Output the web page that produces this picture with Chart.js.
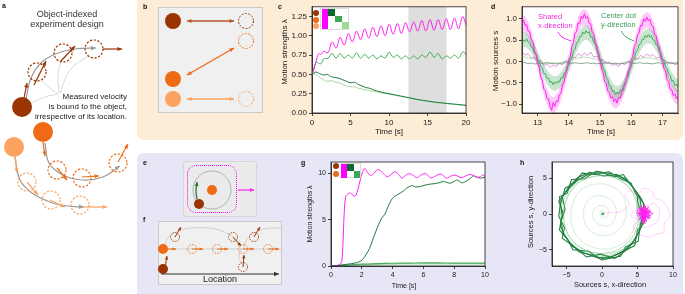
<!DOCTYPE html>
<html><head><meta charset="utf-8">
<script src="https://cdn.jsdelivr.net/npm/chart.js@4.4.1/dist/chart.umd.min.js"></script>
<style>
html,body{margin:0;padding:0}
body{width:685px;height:294px;position:relative;overflow:hidden;background:#fff;font-family:"Liberation Sans",Arial,sans-serif;color:#1a1a1a}
.a{position:absolute;box-sizing:border-box}
.box{background:#f0f0f0;border:1px solid #c9c9c9}
canvas{position:absolute}
.t{position:absolute;white-space:nowrap;line-height:1;font-size:8px;color:#1a1a1a;transform:translate(-50%,-50%)}
.r{transform:translate(-50%,-50%) rotate(-90deg)}
.L{position:absolute;font-weight:bold;font-size:7px;line-height:1;color:#111}
.sq{position:absolute}
</style></head><body>
<div class="a" style="left:137px;top:0;width:546px;height:140px;background:#fdedd6;border-radius:0 0 7px 7px"></div>
<div class="a" style="left:137px;top:153px;width:546px;height:141px;background:#e6e6f7;border-radius:7px 7px 0 0"></div>
<div class="a box" style="left:158px;top:7px;width:105px;height:106px"></div>
<div class="a box" style="left:183px;top:161px;width:74px;height:56px;border-radius:3px;background:#ebebeb;border-color:#d6d6d6"></div>
<div class="a" style="left:187px;top:165px;width:50px;height:48px;border:1.4px dotted #ff00ff;border-radius:9px"></div>
<div class="a box" style="left:158px;top:221px;width:124px;height:64px"></div>

<canvas id="cc" width="195" height="140" style="left:280px;top:0"></canvas>
<canvas id="cd" width="193" height="140" style="left:490px;top:0"></canvas>
<canvas id="cg" width="195" height="135" style="left:300px;top:153px"></canvas>
<canvas id="ch" width="163" height="135" style="left:520px;top:153px"></canvas>
<canvas id="ov" width="685" height="294" style="left:0;top:0"></canvas>

<!-- panel letters -->
<div class="L" style="left:2px;top:2px">a</div>
<div class="L" style="left:143px;top:3px">b</div>
<div class="L" style="left:278px;top:3px">c</div>
<div class="L" style="left:491px;top:3px">d</div>
<div class="L" style="left:143px;top:159px">e</div>
<div class="L" style="left:143px;top:216px">f</div>
<div class="L" style="left:301px;top:159px">g</div>
<div class="L" style="left:520px;top:159px">h</div>

<!-- panel a texts -->
<div class="t" style="left:67px;top:14px;font-size:9px;color:#333">Object-indexed</div>
<div class="t" style="left:67px;top:24px;font-size:9px;color:#333">experiment design</div>
<div style="position:absolute;left:0;width:127px;top:92px;text-align:right;font-size:8px;line-height:10px;color:#222">Measured velocity<br>is bound to the object,<br>irrespective of its location.</div>

<!-- axis titles -->
<div class="t r" style="left:285px;top:52px">Motion strengths λ</div>
<div class="t" style="left:389px;top:132px">Time [s]</div>
<div class="t r" style="left:496px;top:61px">Motion sources s</div>
<div class="t" style="left:601px;top:132px">Time [s]</div>
<div class="t r" style="left:309px;top:214px;font-size:7px">Motion strengths λ</div>
<div class="t" style="left:404px;top:285px;font-size:7px">Time [s]</div>
<div class="t r" style="left:531px;top:212px;font-size:7.5px">Sources s, y-direction</div>
<div class="t" style="left:610px;top:285px;font-size:7.5px">Sources s, x-direction</div>
<div class="t" style="left:220px;top:279px;font-size:9px">Location</div>

<!-- d annotations -->
<div style="position:absolute;left:538px;top:12px;font-size:7.5px;line-height:9px;color:#ee2ad8">Shared<br>x-direction</div>
<div style="position:absolute;left:601px;top:11px;font-size:7.5px;line-height:9px;color:#3a9c52">Center dot<br>y-direction</div>

<!-- inset legend c -->
<div class="sq" style="left:320px;top:8px;width:29px;height:22px;background:#fff;border:1px solid #ddd;box-sizing:border-box"></div>
<div class="sq" style="left:313px;top:10px;width:6px;height:6px;border-radius:50%;background:#9a3503"></div>
<div class="sq" style="left:313px;top:16.5px;width:6px;height:6px;border-radius:50%;background:#ee6a15"></div>
<div class="sq" style="left:313px;top:23px;width:6px;height:6px;border-radius:50%;background:#fda35f"></div>
<div class="sq" style="left:321.5px;top:9px;width:6px;height:20px;background:#ff00ff"></div>
<div class="sq" style="left:327.5px;top:9px;width:7px;height:6.6px;background:#0b6b2f"></div>
<div class="sq" style="left:334.5px;top:15.6px;width:7px;height:6.6px;background:#3fa654"></div>
<div class="sq" style="left:341.5px;top:22.2px;width:7px;height:6.6px;background:#a0d89a"></div>
<!-- inset legend g -->
<div class="sq" style="left:340.5px;top:163px;width:20px;height:15px;background:#fff;border:1px solid #ddd;box-sizing:border-box"></div>
<div class="sq" style="left:333px;top:163px;width:6px;height:6px;border-radius:50%;background:#9a3503"></div>
<div class="sq" style="left:333px;top:170.5px;width:6px;height:6px;border-radius:50%;background:#ee6a15"></div>
<div class="sq" style="left:341px;top:163.5px;width:6px;height:14px;background:#ff00ff"></div>
<div class="sq" style="left:347px;top:163.5px;width:6.5px;height:7px;background:#0b6b2f"></div>
<div class="sq" style="left:353.5px;top:170.5px;width:6.5px;height:7px;background:#3fa654"></div>

<script>
// ---------------- DATA ----------------
// panel c: motion strengths (three objects)
const cTime=[0,0.3,0.6,0.9,1.2,1.5,2.07,2.6,3.13,3.66,4.19,4.72,5.25,5.78,6.31,6.84,7.37,7.9,8.43,8.96,9.49,10.02,10.55,11.08,11.61,12.14,12.67,13.2,13.73,14.26,14.79,15.32,15.85,16.38,16.91,17.44,17.97,18.5,19.03,19.56,20];
const cShared=[0.50,0.58,0.70,0.77,0.76,0.80,0.78,0.92,0.84,0.98,0.88,1.03,0.92,1.06,0.95,1.09,0.97,1.11,0.99,1.13,1.00,1.15,1.02,1.16,1.03,1.17,1.05,1.18,1.06,1.20,1.06,1.21,1.07,1.21,1.08,1.22,1.08,1.23,1.09,1.25,1.14];
const cCenter=[0.50,0.60,0.66,0.64,0.64,0.70,0.71,0.77,0.71,0.77,0.71,0.75,0.71,0.78,0.71,0.76,0.71,0.75,0.70,0.74,0.71,0.79,0.72,0.75,0.70,0.74,0.70,0.74,0.70,0.75,0.72,0.79,0.72,0.77,0.70,0.74,0.71,0.75,0.71,0.79,0.76];
const cTime2=[0,0.5,1,1.5,2,2.5,3,3.5,4,4.5,5,5.5,6,6.5,7,7.5,8,9,10,11,12,13,14,15,16,17,18,19,20];
const cDark=[0.50,0.53,0.51,0.49,0.50,0.47,0.46,0.45,0.43,0.41,0.39,0.40,0.37,0.35,0.33,0.32,0.30,0.27,0.25,0.23,0.21,0.19,0.17,0.155,0.14,0.13,0.12,0.11,0.10];
const cLight=[0.50,0.50,0.46,0.43,0.41,0.42,0.40,0.39,0.37,0.35,0.34,0.34,0.32,0.31,0.30,0.29,0.28,0.26,0.245,0.225,0.205,0.185,0.165,0.15,0.135,0.125,0.115,0.105,0.095];
const cSpan=[12.5,17.5];
const cXTicks=[0,5,10,15,20], cXLabels=['0','5','10','15','20'];
const cYTicks=[0,0.25,0.5,0.75,1,1.25], cYLabels=['0.00','0.25','0.50','0.75','1.00','1.25'];

// panel d: motion sources, 12.5 s .. 17.5 s (fine: 0.05 s, coarse: 0.1 s)
const dStart=12.5, dFine=0.05, dCoarse=0.1;
const dShared=[0.88,0.97,0.84,0.86,0.70,0.69,0.50,0.45,0.24,0.17,
-0.03,-0.13,-0.36,-0.44,-0.65,-0.69,-0.87,-0.88,-1.05,-1.15,
-0.96,-1.06,-0.92,-0.95,-0.78,-0.75,-0.55,-0.49,-0.28,-0.18,
0.04,0.12,0.36,0.44,0.66,0.70,0.90,0.89,1.06,1.00,
1.12,1.01,1.05,0.90,0.88,0.69,0.65,0.42,0.36,0.12,
0.03,-0.18,-0.25,-0.47,-0.52,-0.70,-0.73,-0.86,-0.83,-0.95,
-0.88,-0.98,-0.84,-0.86,-0.70,-0.68,-0.49,-0.44,-0.23,-0.16,
0.05,0.10,0.35,0.42,0.62,0.66,0.85,0.83,1.00,0.94,
1.04,0.95,0.99,0.84,0.82,0.64,0.60,0.40,0.33,0.10,
0.02,-0.17,-0.22,-0.43,-0.47,-0.65,-0.66,-0.80,-0.76,-0.88,
-0.82];
const dCenter=[0.44,0.50,0.47,0.53,0.45,0.43,0.33,0.31,0.20,0.17,
0.05,0.02,-0.12,-0.14,-0.28,-0.29,-0.40,-0.39,-0.50,-0.47,
-0.55,-0.48,-0.52,-0.46,-0.49,-0.38,-0.39,-0.27,-0.26,-0.12,
-0.10,0.03,0.08,0.24,0.28,0.44,0.46,0.58,0.58,0.69,
0.64,0.72,0.66,0.70,0.57,0.57,0.44,0.42,0.27,0.22,
0.06,0.02,-0.15,-0.21,-0.37,-0.42,-0.57,-0.58,-0.71,-0.68,
-0.78,-0.72,-0.77,-0.67,-0.69,-0.56,-0.55,-0.40,-0.35,-0.20,
-0.13,0.03,0.06,0.22,0.25,0.39,0.41,0.52,0.51,0.61,
0.56,0.63,0.57,0.60,0.50,0.49,0.38,0.36,0.23,0.19,
0.05,0.02,-0.12,-0.17,-0.30,-0.33,-0.46,-0.45,-0.57,-0.53,
-0.60];
const dSharedHi=[1.10,1.06,0.93,0.72,0.46,0.17,-0.15,-0.44,-0.66,-0.80,
-0.84,-0.79,-0.64,-0.42,-0.13,0.18,0.50,0.80,1.04,1.18,
1.22,1.17,1.03,0.80,0.50,0.18,-0.11,-0.37,-0.57,-0.70,
-0.74,-0.70,-0.57,-0.36,-0.10,0.18,0.48,0.76,0.97,1.11,
1.16,1.11,0.97,0.75,0.48,0.17,-0.09,-0.33,-0.51,-0.63,-0.67];
const dSharedLo=[0.72,0.68,0.56,0.35,0.10,-0.18,-0.49,-0.78,-1.02,-1.17,
-1.22,-1.16,-1.01,-0.78,-0.50,-0.17,0.15,0.44,0.66,0.81,
0.86,0.81,0.67,0.44,0.15,-0.18,-0.46,-0.72,-0.93,-1.06,
-1.11,-1.06,-0.93,-0.72,-0.46,-0.18,0.13,0.40,0.61,0.75,
0.80,0.75,0.61,0.40,0.13,-0.17,-0.44,-0.68,-0.86,-0.98,-1.03];
const dCenterHi=[0.68,0.69,0.63,0.53,0.40,0.25,0.08,-0.07,-0.20,-0.29,
-0.34,-0.35,-0.30,-0.20,-0.07,0.09,0.28,0.48,0.66,0.78,
0.85,0.85,0.78,0.65,0.48,0.28,0.05,-0.17,-0.36,-0.50,
-0.57,-0.57,-0.50,-0.36,-0.17,0.06,0.26,0.44,0.60,0.71,
0.77,0.77,0.71,0.60,0.44,0.26,0.07,-0.11,-0.26,-0.37,-0.43];
const dCenterLo=[0.34,0.34,0.29,0.20,0.07,-0.09,-0.25,-0.40,-0.53,-0.63,
-0.69,-0.68,-0.63,-0.53,-0.40,-0.25,-0.07,0.14,0.31,0.43,
0.50,0.50,0.43,0.31,0.14,-0.07,-0.29,-0.51,-0.70,-0.84,
-0.91,-0.91,-0.84,-0.70,-0.51,-0.29,-0.08,0.10,0.25,0.36,
0.42,0.42,0.36,0.25,0.10,-0.08,-0.26,-0.43,-0.59,-0.70,-0.76];
const dOtherA=[0.22,0.15,0.18,0.08,0.10,-0.02,0.02,-0.10,-0.06,-0.14,
-0.08,-0.12,-0.05,-0.08,0.02,-0.03,0.10,0.08,0.18,0.12,
0.20,0.14,0.22,0.10,0.12,0.02,0.05,-0.06,-0.02,-0.10,
-0.06,-0.12,-0.04,-0.08,0.01,-0.02,0.08,0.05,0.14,0.10,
0.17,0.12,0.16,0.08,0.10,0.02,0.03,-0.05,-0.02,-0.08,-0.05];
const dOtherB=[-0.02,-0.03,-0.05,-0.04,-0.06,-0.05,-0.04,-0.05,-0.03,-0.05,
-0.04,-0.06,-0.05,-0.04,-0.03,-0.04,-0.05,-0.03,-0.04,-0.05,
-0.04,-0.03,-0.05,-0.04,-0.06,-0.04,-0.05,-0.03,-0.04,-0.05,
-0.04,-0.06,-0.05,-0.04,-0.03,-0.04,-0.05,-0.04,-0.03,-0.05,
-0.04,-0.05,-0.06,-0.04,-0.03,-0.05,-0.04,-0.03,-0.05,-0.04,-0.03];
const dOtherC=[0.12,0.10,0.08,0.06,0.05,0.02,0.00,-0.02,-0.03,-0.04,
-0.05,-0.04,-0.03,-0.02,0.00,0.02,0.04,0.06,0.08,0.09,
0.10,0.09,0.08,0.06,0.04,0.02,0.00,-0.02,-0.04,-0.05,
-0.06,-0.05,-0.04,-0.02,0.00,0.02,0.04,0.06,0.07,0.08,
0.09,0.08,0.07,0.05,0.03,0.01,-0.01,-0.03,-0.04,-0.05,-0.06];
const dXTicks=[13,14,15,16,17], dXLabels=['13','14','15','16','17'];
const dYTicks=[-1,-0.5,0,0.5,1], dYLabels=['\u22121.0','\u22120.5','0.0','0.5','1.0'];

// panel g
const gTimeS=[0,0.3,0.5,0.6,0.7,0.78,0.85,0.95,1.1,1.2,1.35,1.5,1.6,1.75,1.9,2.05,2.2,2.35,2.55,2.75,2.95,3.15,3.4,3.65,3.9,4.15,4.4,4.6,4.85,5.1,5.35,5.57,5.8,6.1,6.3,6.5,6.8,7.1,7.3,7.5,7.75,8.0,8.25,8.5,8.75,9.0,9.25,9.45,9.7,9.85,10];
const gShared=[0,0.02,0.1,0.2,0.5,2.5,5.5,7.5,7.8,7.9,7.8,7.55,7.6,8.3,9.3,10.2,10.55,10.2,9.8,9.95,10.35,10.4,10.0,9.65,9.9,10.2,9.9,9.5,9.8,10.0,9.8,9.55,9.8,10.0,9.8,9.5,9.75,9.95,9.75,9.5,9.7,9.85,9.7,9.55,9.75,9.9,9.8,9.6,9.65,9.85,9.7];
const gTimeD=[0,0.5,1.0,1.5,1.9,2.1,2.3,2.5,2.7,2.9,3.1,3.3,3.5,3.7,3.9,4.1,4.3,4.5,4.7,4.9,5.1,5.3,5.5,5.8,6.1,6.4,6.7,7.0,7.3,7.5,7.75,8.0,8.2,8.5,8.7,8.9,9.1,9.25,9.5,9.7,9.85,10];
const gDark=[0,0.08,0.18,0.3,0.5,0.8,1.3,1.9,2.8,3.7,4.5,5.2,5.6,6.4,7.1,7.5,7.7,7.9,8.1,8.4,8.6,8.7,8.55,8.6,8.75,8.85,8.9,9.0,9.15,9.05,8.95,9.15,9.3,9.0,9.1,9.3,9.55,9.75,9.6,9.5,9.55,9.6];
const gTimeM=[0,1,2,3,4,5,6,7,8,9,10];
const gMid=[0,0.1,0.2,0.25,0.3,0.32,0.33,0.33,0.32,0.32,0.32];
const gLight=[0,0.07,0.14,0.18,0.21,0.23,0.24,0.24,0.24,0.24,0.24];
const gXTicks=[0,2,4,6,8,10], gXLabels=['0','2','4','6','8','10'];
const gYTicks=[0,5,10], gYLabels=['0','5','10'];

// panel h: sources (x, y)
const hDark1=[[5.6,0.5],[5.3,2.4],[4.3,3.8],[3.2,5.0],[1.3,5.6],[-0.4,5.9],[-2.2,5.4],[-3.6,4.6],[-5.0,3.2],[-6.1,1.8],[-5.5,0.2],[-5.9,-1.6],[-5.2,-3.1],[-4.2,-4.5],[-2.6,-5.4],[-0.7,-6.1],[1.3,-6.0],[3.0,-5.2],[4.3,-4.0],[5.2,-2.5],[5.7,-0.8],[5.6,0.5]];
const hDark2=[[5.1,1.2],[4.9,3.0],[3.6,4.6],[2.1,5.5],[0.2,5.3],[-1.7,5.8],[-3.4,5.1],[-4.6,3.9],[-5.6,2.4],[-5.2,0.6],[-5.8,-0.9],[-5.5,-2.7],[-4.5,-4.0],[-3.2,-5.3],[-1.5,-5.7],[0.4,-6.3],[2.2,-5.6],[3.8,-4.7],[4.8,-3.3],[5.6,-1.7],[5.9,0.0],[5.1,1.2]];
const hDark3=[[5.8,1.6],[4.7,2.9],[4.1,4.3],[2.6,4.9],[1.0,5.9],[-1.0,5.5],[-2.8,5.7],[-4.1,4.2],[-5.2,3.6],[-5.9,1.2],[-6.1,-0.3],[-5.3,-1.9],[-5.6,-3.4],[-3.7,-4.7],[-2.2,-6.0],[-0.2,-5.6],[1.8,-6.2],[3.5,-5.0],[4.6,-4.4],[5.0,-2.2],[6.0,-1.2],[5.8,1.6]];
const hDark4=[[6.1,0.9],[5.5,2.2],[4.5,3.5],[3.0,5.5],[1.8,5.2],[-0.8,6.0],[-2.5,4.9],[-4.3,4.8],[-4.9,2.9],[-6.0,2.4],[-5.6,-0.3],[-6.0,-2.2],[-4.8,-3.6],[-4.1,-5.0],[-1.9,-5.2],[-0.1,-6.4],[2.6,-5.9],[3.3,-4.6],[5.1,-3.8],[5.4,-1.4],[6.1,0.9]];
const hMid1=[[5.0,0.3],[4.8,2.2],[3.7,3.8],[2.2,4.9],[0.3,5.4],[-1.7,5.1],[-3.4,4.3],[-4.6,2.9],[-5.3,1.1],[-5.4,-0.9],[-4.9,-2.7],[-3.8,-4.1],[-2.2,-5.1],[-0.3,-5.5],[1.7,-5.2],[3.3,-4.3],[4.5,-2.9],[5.1,-1.2],[5.0,0.3]];
const hMid2=[[5.4,0.8],[5.0,2.6],[3.9,4.2],[2.4,5.2],[0.6,5.7],[-1.4,5.6],[-3.2,4.8],[-4.7,3.4],[-5.6,1.6],[-5.9,-0.4],[-5.5,-2.4],[-4.5,-4.0],[-2.9,-5.2],[-1.0,-5.8],[1.0,-5.8],[2.9,-5.0],[4.4,-3.7],[5.3,-1.9],[5.4,0.8]];
const hSpiral=[[0,0],[0.3,0.2],[0.2,0.5],[-0.2,0.4],[-0.3,0.0],[0,-0.4],[0.6,-0.5],[0.9,0.1],[0.7,0.8],[0,1.2],[-0.9,0.9],[-1.3,0],[-1.0,-1.0],[0,-1.6],[1.2,-1.5],[1.9,-0.4],[1.9,1.0],[1.2,2.0],[0,2.5],[-1.3,2.4],[-2.3,1.4],[-2.6,0],[-2.3,-1.5],[-1.3,-2.6],[0.2,-3.0],[1.8,-2.6],[2.9,-1.5],[3.4,0],[3.3,1.6],[2.6,3.0],[1.3,3.9],[-0.3,4.2],[-2.0,3.9],[-3.3,3.0],[-4.1,1.5],[-4.4,-0.2],[-4.1,-2.0],[-3.2,-3.5],[-1.7,-4.5],[0.2,-4.9],[2.0,-4.6],[3.5,-3.6],[4.5,-2.0],[4.9,0],[4.7,2.0],[3.8,3.7],[2.3,4.8],[0.4,5.3],[-1.6,5.2],[-3.3,4.5],[-4.6,3.1],[-5.3,1.3],[-5.4,-0.7],[-4.9,-2.6],[-3.8,-4.2],[-2.1,-5.2],[0,-5.6],[2.0,-5.3],[3.7,-4.4],[4.9,-2.7],[5.4,-0.6],[5.2,1.5]];
const hSharedCore=[[5.2,0.3],[6.1,-0.4],[5.6,0.9],[6.6,0.2],[5.3,-0.6],[6.4,0.8],[5.8,-1.1],[6.9,-0.2],[5.1,0.1],[6.2,1.1],[5.5,-0.3],[6.8,0.5],[5.9,-0.8],[4.9,0.6],[6.3,-0.1],[5.4,1.2],[6.6,-0.7],[5.7,0.4],[6.1,-1.3],[5.0,-0.2],[6.5,0.9],[5.6,-0.9],[6.9,0.3],[5.3,0.7],[6.0,-0.5],[5.5,1.0],[6.7,-0.3],[5.2,-0.8],[6.3,0.6],[5.8,-0.1],[4.8,0.2],[6.2,-0.9],[5.9,1.3],[6.8,-0.6],[5.4,0.0],[6.4,0.4],[5.7,-1.4],[6.0,0.8],[5.1,-0.4],[6.6,1.0],[5.8,0.2],[6.3,-1.1],[5.3,0.5],[7.2,0.1],[5.9,-0.6],[5.5,0.6],[6.4,-0.4],[5.0,0.9],[6.1,0.3],[5.6,-1.2],[6.7,0.7],[5.8,-0.2]];
const hSharedWide=[[0.2,0.05],[1.0,0.2],[2.6,0.3],[3.4,0.9],[3.8,1.5],[3.2,2.7],[4.0,3.3],[5.1,2.8],[5.8,3.6],[6.9,3.2],[7.5,2.2],[8.4,1.9],[9.2,0.9],[9.6,-0.3],[8.8,-1.2],[8.7,-2.5],[7.6,-2.8],[6.8,-3.2],[5.6,-3.0],[4.8,-2.5],[4.4,-1.6],[5.2,-0.9],[4.0,-0.2],[4.6,0.4],[6.5,1.2],[7.4,1.5],[8.1,0.5],[7.9,-0.9],[7.0,-1.6],[6.0,-1.9],[5.0,-1.4]];
const hCenterDot=[[0.1,0.05]];
const hXTicks=[-5,0,5,10], hXLabels=['\u22125','0','5','10'];
const hYTicks=[-5,0,5], hYLabels=['\u22125','0','5'];

// schematic panels (page coordinates)
const aDarkDot=[[22,107]], aOrangeDot=[[43,132]], aLightDot=[[14,147]];
const aDarkRings=[[37,72],[63,53],[94,49]];
const aOrangeRings=[[57,170],[82,178],[118,163]];
const aLightRings=[[27,182],[51,200],[80,205]];
const aDarkArrows=[[[24,98],[27,83]],[[34,85],[46,61]],[[61,61],[75,46]],[[103,49],[122,49]]];
const aOrangeArrows=[[[43,142],[45,156]],[[57,168],[67,180]],[[82,177],[99,176]],[[118,162],[128,144]]];
const aLightArrows=[[[15,157],[17,173]],[[27,182],[38,195]],[[50,200],[65,207]],[[82,207],[107,207]]];
const aDarkPath=[[26,99],[31,78],[42,62],[58,53],[75,49],[96,48]];
const aOrangePath=[[45,143],[49,163],[63,175],[83,180],[103,177],[120,166]];
const aLightPath=[[15,157],[20,180],[32,193],[50,202],[67,206],[84,207]];
const aPointers=[[[58,94],[45,97],[31,103]],[[58,94],[50,88],[41,80]],[[59,93],[58,75],[61,61]],[[60,93],[70,70],[88,56]]];
const bDarkDot=[[173,21]], bOrangeDot=[[173,79]], bLightDot=[[173,99]];
const bDarkRing=[[246,21]], bOrangeRing=[[246,41]], bLightRing=[[246,99]];
const bDarkArrow=[[187,21],[234,21]], bOrangeArrow=[[187,75],[234,48]], bLightArrow=[[187,99],[234,99]];
const eRing=[[212,190]], eOrangeDot=[[212,190]], eDarkDot=[[199,204]];
const eGreenArrow=[[197,199],[196,191],[197,182]], eSharedArrow=[[238,190],[254,190]];
const fAxis=[[161,274],[279,274]], fTrack=[[161,249],[281,249]];
const fArcs=[[[163,249],[168,238],[178,231],[192,228],[208,228],[222,231],[234,238],[241,249]],[[243,249],[248,238],[258,231],[272,228],[281,228]],[[241,249],[239,257],[242,264]]];
const fOrangeDot=[[163,249]], fDarkDot=[[163,269]];
const fOrangeRings=[[192,249],[217,249],[243,249],[268,249]];
const fDarkRings=[[175,237],[233,237],[254,237],[243,267]];
const fOrangeArrows=[[[163,249],[176,249]],[[192,249],[203,249]],[[217,249],[228,249]],[[243,249],[254,249]],[[268,249],[279,249]]];
const fDarkArrows=[[[165,268],[167,256]],[[175,237],[181,227]],[[233,237],[241,246]],[[254,237],[260,227]],[[243,267],[244,255]]];
const dPointers=[[[558,32],[562,37],[571,41]],[[621,31],[626,37],[634,41]]];

// ---------------- RENDER ----------------
const MAG='#ff22ee', GD='#1e7b3c', GM='#44ad5c', GL='#a5d99f';
const BR='#9a3503', OR='#ee6a15', LO='#fda35f';
Chart.defaults.font.family='"Liberation Sans", Arial, sans-serif';
Chart.defaults.font.size=8;
Chart.defaults.color='#1a1a1a';
Chart.defaults.animation=false;
Chart.defaults.events=[];
Chart.defaults.plugins.legend.display=false;
Chart.defaults.plugins.tooltip.enabled=false;

const XY=(xs,ys)=>xs.map((x,i)=>({x,y:ys[i]}));
const P=a=>a.map(p=>({x:p[0],y:p[1]}));
const grid=(start,step,vals)=>vals.map((y,i)=>({x:+(start+i*step).toFixed(3),y}));

const frame={id:'frame',
  beforeDraw(ch){const a=ch.chartArea,c=ch.ctx;c.save();c.fillStyle='#fff';c.fillRect(a.left,a.top,a.width,a.height);c.restore();},
  afterDraw(ch){const a=ch.chartArea,c=ch.ctx;c.save();c.strokeStyle='#1a1a1a';c.lineWidth=0.8;c.strokeRect(a.left,a.top,a.width,a.height);c.restore();}};

function axis(min,max,ticks,labels,fixed,isY,fs){
  return {type:'linear',min,max,
    afterBuildTicks:s=>{s.ticks=ticks.map(v=>({value:v}));},
    afterFit:s=>{if(isY)s.width=fixed;else s.height=fixed;},
    ticks:{callback:(v,i)=>labels[ticks.indexOf(v)],padding:2,maxRotation:0,autoSkip:false,font:{size:fs},color:'#1a1a1a'},
    grid:{display:true,drawOnChartArea:false,drawTicks:true,tickLength:3,tickWidth:0.8,color:'#1a1a1a'},
    border:{display:true,color:'#1a1a1a',width:0.8}};
}
function ln(data,color,w,order,extra){return Object.assign({data,showLine:true,pointRadius:0,borderColor:color,borderWidth:w,order,fill:false,tension:0},extra||{});}
function panel(id,pad,yW,xH,xr,yr,fs,datasets){
  return new Chart(document.getElementById(id),{type:'scatter',data:{datasets},
    options:{responsive:false,devicePixelRatio:1,layout:{padding:pad,autoPadding:false},
      scales:{x:axis(xr[0],xr[1],xr[2],xr[3],xH,false,fs),y:axis(yr[0],yr[1],yr[2],yr[3],yW,true,fs)}},
    plugins:[frame]});
}

// c
panel('cc',{left:0,top:6,right:9,bottom:0},32,27,[0,20,cXTicks,cXLabels],[0,1.375,cYTicks,cYLabels],8,[
  ln(XY(cTime,cShared),MAG,1,0,{tension:0.35}),
  ln(XY(cTime,cCenter),GM,1,1,{tension:0.35}),
  ln(XY(cTime2,cDark),GD,1,2,{tension:0.3}),
  ln(XY(cTime2,cLight),GL,1,3,{tension:0.3}),
  ln(cSpan.map(x=>({x,y:1.375})),'rgba(0,0,0,0)',0,9,{fill:'start',backgroundColor:'#dedede'})
]);
// d
panel('cd',{left:0,top:5,right:5,bottom:0},32,27,[12.5,17.5,dXTicks,dXLabels],[-1.21,1.28,dYTicks,dYLabels],8,[
  ln(grid(dStart,dFine,dShared),MAG,1,0),
  ln(grid(dStart,dFine,dCenter),GM,1,1),
  ln(grid(dStart,dCoarse,dOtherA),'rgba(190,80,190,0.7)',0.8,2),
  ln(grid(dStart,dCoarse,dOtherB),'#6f8f78',0.8,3),
  ln(grid(dStart,dCoarse,dOtherC),GL,0.8,4),
  ln(grid(dStart,dCoarse,dSharedHi),'rgba(0,0,0,0)',0,6,{fill:'+1',backgroundColor:'rgba(255,80,240,0.3)'}),
  ln(grid(dStart,dCoarse,dSharedLo),'rgba(0,0,0,0)',0,7),
  ln(grid(dStart,dCoarse,dCenterHi),'rgba(0,0,0,0)',0,5,{fill:'+1',backgroundColor:'rgba(80,170,100,0.3)'}),
  ln(grid(dStart,dCoarse,dCenterLo),'rgba(0,0,0,0)',0,8)
]);
// g
panel('cg',{left:0,top:9,right:10,bottom:0},31,22,[0,10,gXTicks,gXLabels],[0,11.25,gYTicks,gYLabels],7,[
  ln(XY(gTimeS,gShared),MAG,1,0,{tension:0.3}),
  ln(XY(gTimeD,gDark),GD,1,1,{tension:0.3}),
  ln(XY(gTimeM,gMid),GM,1.2,2,{tension:0.3}),
  ln(XY(gTimeM,gLight),GL,1.2,3,{tension:0.3})
]);
// h
panel('ch',{left:0,top:9,right:10,bottom:0},32,22,[-7.05,10,hXTicks,hXLabels],[-7.25,7.25,hYTicks,hYLabels],7,[
  ln(P(hSharedCore),MAG,0.7,0),
  ln(P(hSharedWide),'rgba(255,90,240,0.4)',0.7,1,{tension:0.3}),
  ln(P(hSpiral),'rgba(120,200,130,0.38)',0.8,2,{tension:0.4}),
  {data:P(hCenterDot),showLine:false,pointRadius:1.5,pointBackgroundColor:GM,pointBorderWidth:0,order:2},
  ln(P(hMid1),'rgba(68,173,92,0.55)',0.8,3,{tension:0.2}),
  ln(P(hMid2),'rgba(68,173,92,0.55)',0.8,3,{tension:0.2}),
  ln(P(hDark1),GD,1.05,4),
  ln(P(hDark2),GD,1.05,4),
  ln(P(hDark3),GD,1.05,4),
  ln(P(hDark4),GD,1.05,4)
]);

// overlay with schematics
function ringImg(col,r,lw,dash){const s=Math.ceil(2*r+lw+2);const c=document.createElement('canvas');c.width=s;c.height=s;const x=c.getContext('2d');x.strokeStyle=col;x.lineWidth=lw;x.setLineDash(dash);x.beginPath();x.arc(s/2,s/2,r,0,Math.PI*2);x.stroke();return c;}
const DS=[];
const dot=(a,col,r)=>DS.push({data:P(a),showLine:false,pointRadius:r,pointBackgroundColor:col,backgroundColor:col,pointBorderWidth:0,borderWidth:0,clip:false,order:2});
const ring=(a,col,r,lw,dash)=>DS.push({data:P(a),showLine:false,pointStyle:ringImg(col,r,lw,dash),pointRadius:r,clip:false,order:3});
const path=(a,col,w,arrow,t,order)=>DS.push({data:P(a),showLine:true,pointRadius:0,borderColor:col,borderWidth:w,tension:t||0,arrow,clip:false,order:order||1});
// a
aPointers.forEach(p=>path(p,'#cfcfcf',0.8,null,0.4,6));
path(aDarkPath,'#9a9a9a',1.2,{len:5,wid:2.2},0.4,5);
path(aOrangePath,'#9a9a9a',1.2,{len:5,wid:2.2},0.4,5);
path(aLightPath,'#9a9a9a',1.2,{len:5,wid:2.2},0.4,5);
ring(aDarkRings,BR,9,1.2,[2.2,1.6]);
ring(aOrangeRings,OR,9,1.2,[2.2,1.6]);
ring(aLightRings,LO,9,1.2,[2.2,1.6]);
dot(aDarkDot,BR,10);dot(aOrangeDot,OR,10);dot(aLightDot,LO,10);
aDarkArrows.forEach(p=>path(p,BR,1.2,{len:4.5,wid:2}));
aOrangeArrows.forEach(p=>path(p,OR,1.2,{len:4.5,wid:2}));
aLightArrows.forEach(p=>path(p,LO,1.2,{len:4.5,wid:2}));
// b
dot(bDarkDot,BR,8);dot(bOrangeDot,OR,8);dot(bLightDot,LO,8);
ring(bDarkRing,BR,7.5,1,[2,1.4]);ring(bOrangeRing,OR,7.5,1,[2,1.4]);ring(bLightRing,LO,7.5,1,[2,1.4]);
path(bDarkArrow,'#b5582c',1.3,{len:4.5,wid:2,both:true});
path(bOrangeArrow,OR,1.3,{len:4.5,wid:2,both:true});
path(bLightArrow,LO,1.3,{len:4.5,wid:2,both:true});
// e
DS.push({data:P(eRing),showLine:false,pointRadius:19,pointBackgroundColor:'rgba(0,0,0,0)',pointBorderColor:'#b0b0b0',pointBorderWidth:1,clip:false,order:4});
dot(eOrangeDot,OR,5);dot(eDarkDot,BR,5);
path(eGreenArrow,GD,1.3,{len:4,wid:2},0.4);
path(eSharedArrow,MAG,1.2,{len:4,wid:2});
// f
path(fTrack,'#c8c8c8',0.8,null,0,6);
fArcs.forEach(p=>path(p,'#c8c8c8',0.8,null,0.4,6));
path(fAxis,'#333',1.1,{len:5,wid:2.2});
ring(fOrangeRings,OR,4.5,0.9,[1.5,1.1]);
ring(fDarkRings,BR,4.5,0.9,[1.5,1.1]);
dot(fOrangeDot,OR,5);dot(fDarkDot,BR,5);
fOrangeArrows.forEach(p=>path(p,OR,1,{len:3.5,wid:1.6}));
fDarkArrows.forEach(p=>path(p,BR,1,{len:3.5,wid:1.6}));
// d pointers
path(dPointers[0],MAG,1,null,0.4);
path(dPointers[1],GM,1,null,0.4);

const arrowHeads={id:'arrowHeads',afterDatasetsDraw(ch){
  const ctx=ch.ctx;
  ch.data.datasets.forEach((ds,i)=>{
    if(!ds.arrow)return;
    const pts=ch.getDatasetMeta(i).data,n=pts.length;if(n<2)return;
    const L=ds.arrow.len,W=ds.arrow.wid;
    const head=(p,q)=>{const ang=Math.atan2(p.y-q.y,p.x-q.x);ctx.save();ctx.translate(p.x,p.y);ctx.rotate(ang);ctx.beginPath();ctx.moveTo(0,0);ctx.lineTo(-L,W);ctx.lineTo(-L,-W);ctx.closePath();ctx.fillStyle=ds.borderColor;ctx.fill();ctx.restore();};
    head(pts[n-1],pts[n-2]);if(ds.arrow.both)head(pts[0],pts[1]);
  });
}};
new Chart(document.getElementById('ov'),{type:'scatter',data:{datasets:DS},
  options:{responsive:false,devicePixelRatio:1,layout:{padding:0,autoPadding:false},
    scales:{x:{type:'linear',min:0,max:685,display:false},y:{type:'linear',min:0,max:294,reverse:true,display:false}}},
  plugins:[arrowHeads]});
</script>
</body></html>
